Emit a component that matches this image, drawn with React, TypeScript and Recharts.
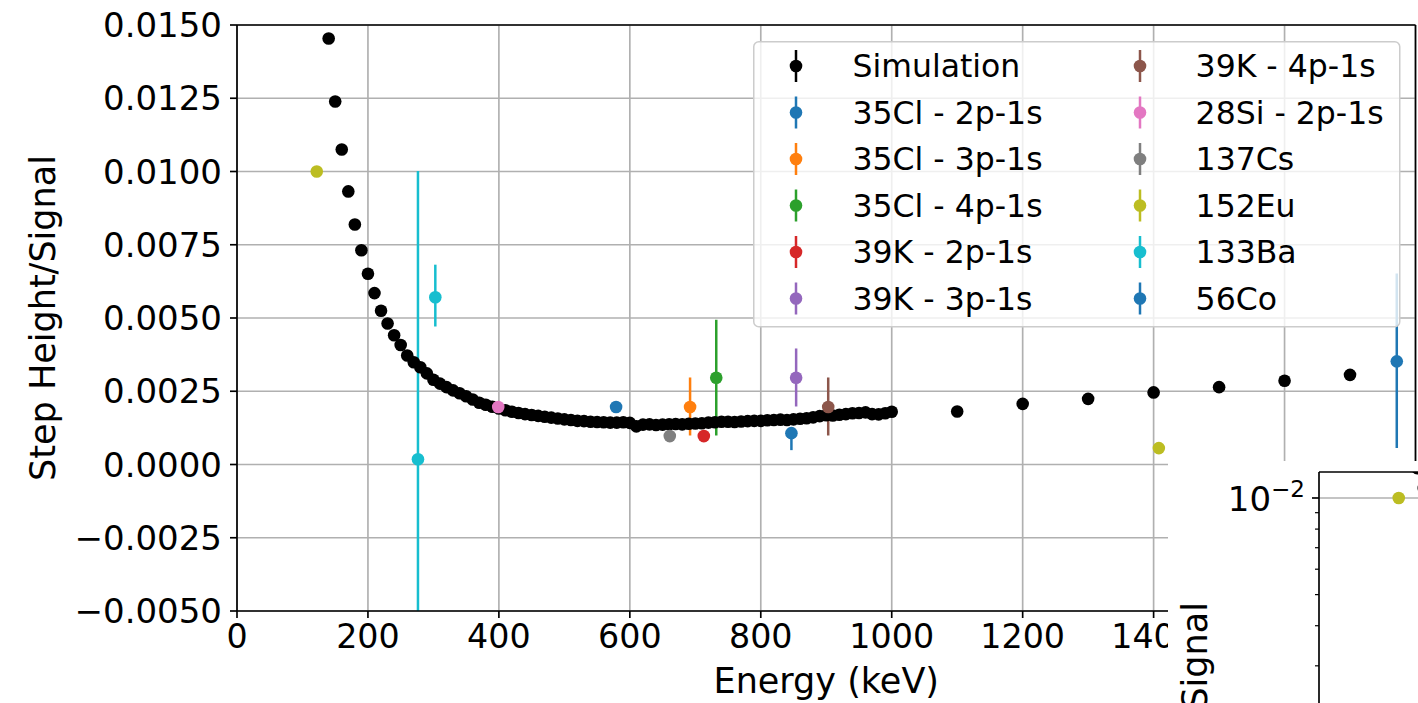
import React from 'react';
import { ScatterChart, Scatter, XAxis, YAxis, CartesianGrid, ErrorBar, ReferenceLine } from 'recharts';

const FONT = '"DejaVu Sans", Verdana, sans-serif';

// Simulation (black) — energy in keV and step height / signal
const SIM_ENERGY = [
  140, 150, 160, 170, 180, 190, 200, 210, 220, 230, 240, 250, 260, 270, 280, 290,
  300, 310, 320, 330, 340, 350, 360, 370, 380, 390, 400, 410, 420, 430, 440, 450,
  460, 470, 480, 490, 500, 510, 520, 530, 540, 550, 560, 570, 580, 590, 600, 610,
  620, 630, 640, 650, 660, 670, 680, 690, 700, 710, 720, 730, 740, 750, 760, 770,
  780, 790, 800, 810, 820, 830, 840, 850, 860, 870, 880, 890, 900, 910, 920, 930,
  940, 950, 960, 970, 980, 990, 1000, 1100, 1200, 1300, 1400, 1500, 1600, 1700,
];
const SIM_VALUE = [
  0.01454, 0.01239, 0.01075, 0.00932, 0.00819, 0.00731, 0.00651, 0.00585, 0.00525, 0.00481, 0.00441, 0.00408, 0.00372, 0.00349, 0.00332, 0.00311,
  0.00289, 0.00276, 0.00264, 0.00253, 0.00243, 0.00233, 0.00222, 0.00211, 0.00204, 0.00197, 0.00191, 0.00185, 0.0018, 0.00176, 0.00172, 0.00169,
  0.00166, 0.00163, 0.0016, 0.00157, 0.00154, 0.00152, 0.00149, 0.00148, 0.00146, 0.00145, 0.00144, 0.00143, 0.00143, 0.00144, 0.00142, 0.0013,
  0.00136, 0.00137, 0.00135, 0.00136, 0.00137, 0.00138, 0.00137, 0.00139, 0.0014, 0.00141, 0.00143, 0.00144, 0.00146, 0.00146, 0.00145, 0.00147,
  0.00148, 0.00149, 0.00149, 0.00151, 0.00152, 0.00153, 0.00152, 0.00154, 0.00156, 0.00158, 0.00161, 0.00165, 0.00168, 0.00167, 0.0017, 0.00172,
  0.00175, 0.00176, 0.00178, 0.00172, 0.00171, 0.00175, 0.0018, 0.00181, 0.00207, 0.00224, 0.00246, 0.00264, 0.00286, 0.00306,
];

// Measured lines / sources
const LINE_LABELS = ['35Cl - 2p-1s', '35Cl - 3p-1s', '35Cl - 4p-1s', '39K - 2p-1s', '39K - 3p-1s', '39K - 4p-1s', '28Si - 2p-1s', '137Cs', '152Eu', '133Ba', '56Co'];
const LINE_COLORS = ['#1f77b4', '#ff7f0e', '#2ca02c', '#d62728', '#9467bd', '#8c564b', '#e377c2', '#7f7f7f', '#bcbd22', '#17becf', '#1f77b4'];
const LINE_ENERGY = [[579], [692], [732], [713], [854], [903], [399], [661], [121.8, 1408], [276.4, 302.9], [846.8, 1771.4]];
const LINE_VALUE = [[0.00196], [0.00196], [0.00296], [0.00097], [0.00296], [0.00196], [0.00196], [0.00097], [0.01, 0.00056], [0.00018, 0.00571], [0.00107, 0.00352]];
const LINE_ERR_LOW = [[0], [0.00097], [0.00197], [0], [0.00098], [0.00097], [0], [0], [0, 0], [0.00984, 0.001], [0.00058, 0.00296]];
const LINE_ERR_HIGH = [[0], [0.00101], [0.00198], [0], [0.001], [0.00101], [0], [0], [0, 0], [0.00984, 0.00111], [0.0001, 0.003]];

const X_TICKS = [0, 200, 400, 600, 800, 1000, 1200, 1400, 1600, 1800];
const Y_TICKS = [-0.005, -0.0025, 0, 0.0025, 0.005, 0.0075, 0.01, 0.0125, 0.015];
const LOG_TICKS = [
  0.0002, 0.0003, 0.0004, 0.0005, 0.0006, 0.0007, 0.0008, 0.0009, 0.001,
  0.002, 0.003, 0.004, 0.005, 0.006, 0.007, 0.008, 0.009, 0.01,
];
const LOG_MAJOR = [0.001, 0.01];

const simData = SIM_ENERGY.map((x, i) => ({ x, y: SIM_VALUE[i] }));
const lineData = LINE_ENERGY.map((xs, s) =>
  xs.map((x, i) => ({ x, y: LINE_VALUE[s][i], err: [LINE_ERR_LOW[s][i], LINE_ERR_HIGH[s][i]] }))
);
const eu152Index = LINE_LABELS.indexOf('152Eu');

const LW = 1.67;
const R = 6.3;

// main plot geometry (layout only)
const PLOT = { left: 237, top: 25, width: 1178.5, height: 586 };

const dot = (color: string) => (p: any) => <circle cx={p.cx} cy={p.cy} r={R} fill={color} />;

const fmtY = (v: number) => (v < 0 ? '\u2212' + Math.abs(v).toFixed(4) : v.toFixed(4));

const XTick = (p: any) => (
  <text x={p.x} y={p.y} dy="0.73em" textAnchor="middle" fontSize={33.3} fontFamily={FONT} fill="#000">
    {p.payload.value}
  </text>
);
const YTick = (p: any) => (
  <text x={p.x} y={p.y} dy="0.36em" textAnchor="end" fontSize={34} fontFamily={FONT} fill="#000">
    {fmtY(p.payload.value)}
  </text>
);
const LogTick = (p: any) => {
  const v = p.payload.value;
  const major = LOG_MAJOR.includes(v);
  const len = major ? 7 : 4;
  const exp = Math.round(Math.log10(v));
  return (
    <g>
      <line x1={p.x - len} x2={p.x} y1={p.y} y2={p.y} stroke="#000" strokeWidth={major ? LW : 1.2} />
      {major && (
        <text x={p.x - 14} y={p.y + 13.5} textAnchor="end" fontSize={34} fontFamily={FONT} fill="#000">
          10
          <tspan dy={-14} fontSize={23}>{'\u2212' + Math.abs(exp)}</tspan>
        </text>
      )}
    </g>
  );
};

const YLabel = (p: any) => {
  const vb = p.viewBox;
  const cx = vb.x + p.bx;
  const cy = vb.y + vb.height / 2;
  return (
    <text x={cx} y={cy} transform={`rotate(-90 ${cx} ${cy})`} textAnchor="middle" fontSize={35} fontFamily={FONT} fill="#000">
      Step Height/Signal
    </text>
  );
};
const XLabel = (p: any) => {
  const vb = p.viewBox;
  return (
    <text x={vb.x + vb.width / 2} y={vb.y + 82} textAnchor="middle" fontSize={35} fontFamily={FONT} fill="#000">
      Energy (keV)
    </text>
  );
};

const LEGEND = [{ label: 'Simulation', color: '#000' }, ...LINE_LABELS.map((label, i) => ({ label, color: LINE_COLORS[i] }))];

const Legend = () => (
  <svg style={{ position: 'absolute', left: 753, top: 40.5 }} width={648} height={287}>
    <rect x={0.75} y={0.75} width={646} height={285} rx={5} fill="rgba(255,255,255,0.8)" stroke="#cccccc" strokeWidth={1.5} />
    {LEGEND.map((e, i) => {
      const col = Math.floor(i / 6);
      const row = i % 6;
      const mx = col ? 387 : 43;
      const tx = col ? 442.6 : 99.5;
      const cy = 25 + 46.5 * row;
      return (
        <g key={i}>
          <line x1={mx} x2={mx} y1={cy - 16} y2={cy + 16} stroke={e.color} strokeWidth={2.5} />
          <circle cx={mx} cy={cy} r={R} fill={e.color} />
          <text x={tx} y={cy + 11.4} fontSize={31.5} fontFamily={FONT} fill="#000">
            {e.label}
          </text>
        </g>
      );
    })}
  </svg>
);

export default function App() {
  return (
    <div style={{ position: 'absolute', left: 0, top: 0, width: 1418, height: 703, overflow: 'hidden', background: '#fff' }}>
      <style>{`.mainplot .recharts-errorBar { clip-path: url(#mainPlotClip); }`}</style>
      <svg width={0} height={0} style={{ position: 'absolute' }}>
        <defs>
          <clipPath id="mainPlotClip" clipPathUnits="userSpaceOnUse">
            <rect x={PLOT.left} y={PLOT.top} width={PLOT.width} height={PLOT.height} />
          </clipPath>
        </defs>
      </svg>
      <div className="mainplot" style={{ position: 'absolute', left: 0, top: 0 }}>
        <ScatterChart width={1430} height={703} margin={{ top: PLOT.top, right: 1430 - PLOT.left - PLOT.width, left: 0, bottom: 0 }}>
          <CartesianGrid stroke="#b0b0b0" strokeWidth={LW} />
          <XAxis
            type="number"
            dataKey="x"
            domain={[0, 1800]}
            ticks={X_TICKS}
            interval={0}
            height={703 - PLOT.top - PLOT.height}
            tickSize={7}
            tickMargin={6}
            tick={(p: any) => <XTick {...p} />}
            tickLine={{ stroke: '#000', strokeWidth: LW }}
            axisLine={{ stroke: '#000', strokeWidth: LW }}
            label={<XLabel />}
          />
          <YAxis
            type="number"
            dataKey="y"
            domain={[-0.005, 0.015]}
            allowDataOverflow
            ticks={Y_TICKS}
            interval={0}
            width={PLOT.left}
            tickSize={7}
            tickMargin={8}
            tick={(p: any) => <YTick {...p} />}
            tickLine={{ stroke: '#000', strokeWidth: LW }}
            axisLine={{ stroke: '#000', strokeWidth: LW }}
            label={<YLabel bx={55} />}
          />
          <ReferenceLine y={0.015} stroke="#000" strokeWidth={LW} ifOverflow="visible" />
          <ReferenceLine x={1800} stroke="#000" strokeWidth={LW} ifOverflow="visible" />
          <Scatter data={simData} shape={dot('#000')} isAnimationActive={false} />
          {lineData.map((d, s) => (
            <Scatter key={s} data={d} shape={dot(LINE_COLORS[s])} isAnimationActive={false}>
              <ErrorBar dataKey="err" direction="y" width={0} stroke={LINE_COLORS[s]} strokeWidth={2.5} isAnimationActive={false} />
            </Scatter>
          ))}
        </ScatterChart>
      </div>
      <Legend />
      <div style={{ position: 'absolute', left: 1168, top: 461, width: 1400, height: 700, background: '#fff' }}>
        <ScatterChart width={1344} height={689} margin={{ top: 11, right: 14.5, left: 0, bottom: 92 }}>
          <XAxis type="number" dataKey="x" domain={[0, 1800]} hide />
          <YAxis
            type="number"
            dataKey="y"
            scale="log"
            domain={[0.00018, 0.01205]}
            allowDataOverflow
            ticks={LOG_TICKS}
            interval={0}
            width={151}
            tickSize={0}
            tickMargin={0}
            tickLine={false}
            tick={(p: any) => <LogTick {...p} />}
            axisLine={{ stroke: '#000', strokeWidth: LW }}
            label={<YLabel bx={39} />}
          />
          {LOG_MAJOR.map((v) => (
            <ReferenceLine key={v} y={v} stroke="#b0b0b0" strokeWidth={LW} />
          ))}
          <ReferenceLine y={0.01205} stroke="#000" strokeWidth={LW} ifOverflow="visible" />
          <Scatter data={simData} shape={dot('#000')} isAnimationActive={false} />
          <Scatter data={lineData[eu152Index]} shape={dot(LINE_COLORS[eu152Index])} isAnimationActive={false} />
        </ScatterChart>
      </div>
    </div>
  );
}
